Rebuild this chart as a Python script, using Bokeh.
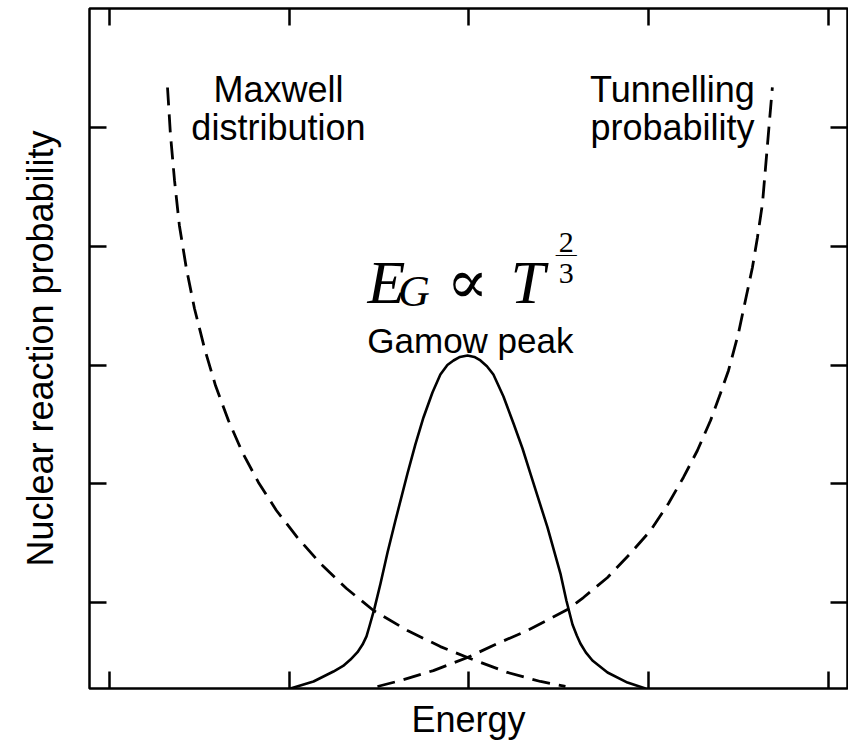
from bokeh.plotting import figure
from bokeh.models import Range1d, FixedTicker, LinearAxis, Label
from bokeh.embed import file_html
from bokeh.resources import INLINE

# ---- data (arbitrary units) ----
x_ticks = [1, 2, 3, 4, 5]
y_ticks = [1, 2, 3, 4, 5]

gamow_energy = [2.007, 2.135, 2.246, 2.300, 2.341, 2.380, 2.408, 2.430, 2.446, 2.474,
                2.508, 2.547, 2.591, 2.658, 2.702, 2.747, 2.797, 2.841, 2.880, 2.914,
                2.950, 2.992, 3.030, 3.064, 3.100, 3.136, 3.192, 3.248, 3.298, 3.342,
                3.437, 3.509, 3.542, 3.576, 3.600, 3.620, 3.650, 3.687, 3.771, 3.882,
                3.982]
gamow_prob = [0.276, 0.335, 0.419, 0.466, 0.520, 0.582, 0.646, 0.715, 0.798, 0.949,
              1.160, 1.421, 1.691, 2.086, 2.331, 2.558, 2.768, 2.920, 3.000, 3.038,
              3.068, 3.080, 3.068, 3.038, 2.990, 2.920, 2.735, 2.507, 2.297, 2.086,
              1.632, 1.244, 1.017, 0.815, 0.722, 0.655, 0.580, 0.512, 0.411, 0.326,
              0.276]

maxwell_energy = [1.323, 1.339, 1.362, 1.389, 1.428, 1.473, 1.529, 1.590, 1.662, 1.740,
                  1.829, 1.929, 2.046, 2.174, 2.319, 2.469, 2.658, 2.841, 2.992, 3.214,
                  3.398, 3.537]
maxwell_prob = [5.337, 4.949, 4.554, 4.175, 3.813, 3.476, 3.139, 2.827, 2.533, 2.263,
                2.011, 1.775, 1.547, 1.328, 1.118, 0.933, 0.764, 0.629, 0.537, 0.411,
                0.335, 0.293]

tunnel_energy = [2.491, 2.619, 2.802, 2.992, 3.159, 3.325, 3.548, 3.637, 3.771, 3.898,
                 4.010, 4.110, 4.193, 4.271, 4.344, 4.399, 4.444, 4.499, 4.538, 4.577,
                 4.605, 4.633, 4.650, 4.666, 4.688]
tunnel_prob = [0.293, 0.343, 0.427, 0.537, 0.655, 0.764, 0.941, 1.042, 1.211, 1.413,
               1.606, 1.834, 2.053, 2.280, 2.533, 2.760, 2.954, 3.265, 3.543, 3.821,
               4.074, 4.360, 4.663, 4.949, 5.337]

x_label = "Energy"
y_label = "Nuclear reaction probability"

# ---- figure ----
p = figure(width=848, height=749, output_backend="svg", toolbar_location=None,
           x_range=Range1d(0.889, 5.106), y_range=Range1d(0.276, 6.002),
           min_border_left=89, min_border_right=1, min_border_top=8, min_border_bottom=61,
           background_fill_color="white", border_fill_color="white")
p.grid.visible = False
p.outline_line_color = "black"
p.outline_line_width = 2.5

SANS = "Liberation Sans"


def style_axis(ax, ticks, label=None, standoff=0):
    ax.ticker = FixedTicker(ticks=ticks)
    ax.major_tick_in = 17
    ax.major_tick_out = 0
    ax.major_tick_line_width = 2.5
    ax.major_tick_line_color = "black"
    ax.minor_tick_line_color = None
    ax.axis_line_color = None
    ax.major_label_overrides = {t: "" for t in ticks}
    ax.major_label_text_font_size = "1px"
    ax.major_label_standoff = 0
    if label:
        ax.axis_label = label
        ax.axis_label_text_font = SANS
        ax.axis_label_text_font_size = "36px"
        ax.axis_label_text_font_style = "normal"
        ax.axis_label_text_color = "black"
        ax.axis_label_standoff = standoff


style_axis(p.xaxis[0], x_ticks, x_label, 10)
style_axis(p.yaxis[0], y_ticks, y_label, 29)
top_ax = LinearAxis()
style_axis(top_ax, x_ticks)
p.add_layout(top_ax, "above")
right_ax = LinearAxis()
style_axis(right_ax, y_ticks)
p.add_layout(right_ax, "right")

# ---- curves ----
p.line(maxwell_energy, maxwell_prob, line_color="black", line_width=2.8, line_dash="18 9")
p.line(tunnel_energy, tunnel_prob, line_color="black", line_width=2.8, line_dash="18 9")
p.line(gamow_energy, gamow_prob, line_color="black", line_width=2.6, line_join="round")


# ---- annotations ----
def lab(x, y, t, size, font=SANS, style="normal", align="center"):
    p.add_layout(Label(x=x, y=y, text=t, text_font=font, text_font_size=size,
                       text_font_style=style, text_align=align,
                       text_baseline="alphabetic", text_color="black"))


lab(1.940, 5.320, "Maxwell", "36px")
lab(1.940, 5.000, "distribution", "36px")
lab(4.132, 5.320, "Tunnelling", "36px")
lab(4.132, 5.000, "probability", "36px")
lab(3.008, 3.206, "Gamow peak", "35px")

SERIF = "Liberation Serif"
lab(2.435, 3.695, "E", "62px", SERIF, "italic", "left")
lab(2.605, 3.619, "G", "44px", SERIF, "italic", "left")
lab(2.992, 3.700, "\u221d", "62px", "DejaVu Serif", "normal", "center")
lab(3.231, 3.695, "T", "62px", SERIF, "italic", "left")
lab(3.542, 4.032, "2", "30px", SERIF, "normal", "center")
lab(3.542, 3.931, "\u2015", "21px", SERIF, "normal", "center")
lab(3.542, 3.771, "3", "30px", SERIF, "normal", "center")

open("out.html", "w").write(file_html(p, INLINE))
